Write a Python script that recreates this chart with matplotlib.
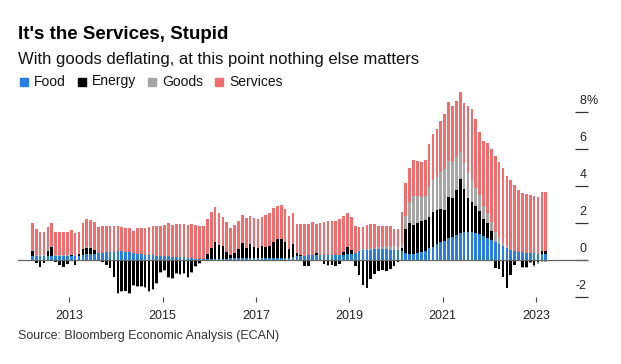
import numpy as np
import pandas as pd
import matplotlib
matplotlib.use("Agg")
import matplotlib.pyplot as plt
from matplotlib.patches import Rectangle

# contributions to inflation, percentage points, monthly from Mar 2012
food = [0.23, 0.22, 0.22, 0.22, 0.22, 0.22, 0.23, 0.23, 0.22, 0.22, 0.22, 0.22, 0.24,
        0.27, 0.30, 0.32, 0.35, 0.38, 0.40, 0.42, 0.44, 0.45,
        0.46, 0.46, 0.45, 0.42, 0.36, 0.32, 0.30, 0.28, 0.27, 0.25, 0.24, 0.22, 0.21, 0.20,
        0.18, 0.17, 0.15, 0.14, 0.12, 0.10, 0.08, 0.06,
        0.05, 0.05, 0.05, 0.05, 0.06, 0.07, 0.08,
        0.10, 0.10, 0.10, 0.10, 0.10, 0.10, 0.10, 0.10, 0.10, 0.10, 0.10, 0.10, 0.10, 0.10, 0.10, 0.10,
        0.15,
        0.20, 0.22, 0.24, 0.25, 0.26, 0.27, 0.27, 0.28, 0.28, 0.28, 0.28, 0.28, 0.29, 0.30, 0.32,
        0.36, 0.48, 0.53, 0.55, 0.56, 0.57, 0.57, 0.57, 0.57, 0.56, 0.55, 0.52,
        0.50, 0.40, 0.30, 0.30, 0.36, 0.45, 0.50, 0.63, 0.72, 0.85, 0.95, 1.03, 1.17, 1.26, 1.35, 1.44,
        1.50, 1.53, 1.52, 1.48, 1.40, 1.32, 1.20, 1.08, 0.99, 0.86, 0.76, 0.65, 0.56, 0.50, 0.45, 0.41,
        0.40, 0.38, 0.36, 0.34, 0.32, 0.32]
energy = [0.25, -0.15, -0.40, -0.15, 0.25, 0.48, -0.10, -0.25, -0.40, -0.20, 0.05, -0.25, 0.10,
          0.30, 0.35, 0.35, 0.20, -0.05, -0.10, -0.25, -0.45, -0.90,
          -1.80, -1.70, -1.65, -1.80, -1.35, -1.40, -1.40, -1.45, -1.70, -1.55, -1.25, -0.65, -0.55,
          -0.90, -0.95, -0.72, -0.78, -0.72, -0.90, -0.65, -0.32, -0.15,
          0.02, 0.25, 0.58, 0.95, 0.74, 0.68, 0.37, 0.17, 0.26, 0.48, 0.80, 0.53, 0.75, 0.62, 0.53,
          0.65, 0.62, 0.65, 0.90, 1.02, 1.02, 0.85, 0.48, 0.70,
          0.20, 0.05, -0.30, -0.30, 0.00, 0.12, 0.00, -0.20, -0.28, -0.25, -0.30, -0.20, 0.15, 0.40, 0.20,
          -0.30, -0.80, -1.35, -1.50, -1.00, -0.75, -0.60, -0.55, -0.58, -0.50, -0.35, -0.12,
          0.13, 1.30, 1.68, 1.60, 1.64, 1.65, 1.66, 1.71, 1.88, 1.85, 1.80, 1.67, 2.23, 2.07, 2.45, 2.96,
          2.33, 1.82, 1.60, 1.42, 1.25, 0.90, 0.80, 0.50, -0.45, -0.50, -0.90, -1.50, -0.80, -0.27,
          -0.05, -0.36, -0.40, -0.10, -0.27, -0.12, 0.15, 0.18]
goods = [0.05] * 16 + [0.0] * 6 + [-0.05] * 22 + [-0.08] * 15 + [-0.05] * 9 + [-0.03] * 15 + \
        [0.00, 0.03, 0.05, 0.05, 0.08, 0.10, 0.12, 0.15, 0.18, 0.20, 0.20, 0.18,
         0.22, 0.68, 1.17, 1.55, 1.45, 1.33, 1.29, 1.61, 1.70, 1.78, 1.98, 2.20, 1.96, 1.99, 1.75, 1.45,
         1.40, 1.35, 1.20, 1.00, 0.85, 0.70, 0.55, 0.45, 0.55, 0.35, 0.20, 0.10, 0.05, 0.00, -0.03,
         -0.05, -0.05, -0.08, -0.10, -0.12, -0.12, -0.10]
services = [1.45, 1.41, 1.26, 1.24, 1.28, 1.23, 1.25, 1.23, 1.24, 1.24, 1.30, 1.17, 1.14, 1.40, 1.50,
            1.42, 1.52, 1.42, 1.46, 1.44, 1.42, 1.41, 1.40, 1.34, 1.30, 1.31, 1.23, 1.39, 1.41, 1.47,
            1.53, 1.61, 1.62, 1.62, 1.68, 1.78, 1.71, 1.78, 1.80, 1.79, 1.77, 1.83, 1.81, 1.78,
            1.79, 1.92, 1.94, 1.84, 1.72, 1.59, 1.59, 1.48, 1.53, 1.55, 1.55, 1.62, 1.53, 1.55, 1.57,
            1.59, 1.71, 1.77, 1.83, 1.82, 1.85, 1.79, 1.80, 1.71,
            1.55, 1.68, 1.69, 1.68, 1.78, 1.53, 1.71, 1.78, 1.84, 1.84, 1.83, 1.92, 1.96, 1.86, 1.83,
            1.49, 1.29, 1.22, 1.29, 1.31, 1.26, 1.17, 1.14, 1.09, 1.10, 0.93, 0.95,
            1.75, 1.80, 1.85, 1.95, 1.90, 1.85, 1.95, 2.30, 2.50, 2.60, 2.80, 3.00, 3.20, 3.00, 3.05, 3.25,
            3.27, 3.65, 3.83, 3.70, 3.40, 3.53, 3.80, 3.97, 4.06, 4.09, 4.04, 3.80, 3.69, 3.55, 3.35,
            3.21, 3.18, 3.14, 3.12, 3.06, 3.18, 3.15]

series = ["Food", "Energy", "Goods", "Services"]
colors = ["#2a7de1", "#000000", "#a5a5a5", "#f26d6d"]
y_ticks = [-2, 0, 2, 4, 6, 8]
year_labels = ["2013", "2015", "2017", "2019", "2021", "2023"]

months = pd.date_range("2012-03-01", periods=len(food), freq="MS")
x = np.arange(len(months))

plt.rcParams["font.family"] = ["Liberation Sans", "DejaVu Sans"]
W, H = 621, 364
fig = plt.figure(figsize=(W / 100, H / 100), dpi=100)
ax = fig.add_axes([18 / W, 1 - 297 / H, 570 / W, (297 - 84.25) / H])

# stack positives upward and negatives downward
pos_base = np.zeros(len(x))
neg_base = np.zeros(len(x))
for vals, c in zip([food, energy, goods, services], colors):
    v = np.array(vals)
    bottom = np.where(v >= 0, pos_base, neg_base)
    ax.bar(x, v, bottom=bottom, width=0.68, color=c, linewidth=0, zorder=2)
    pos_base += np.clip(v, 0, None)
    neg_base += np.clip(v, None, 0)

ax.axhline(0, color="#666666", lw=0.9, zorder=3)
ax.set_xlim(-3.68, 142.85)
ax.set_ylim(-2.0, 9.5)
for s in ax.spines.values():
    s.set_visible(False)

tick_pos = [x[(months.year == int(y)) & (months.month == 1)][0] - 0.5 for y in year_labels]
ax.set_xticks(tick_pos, year_labels)
ax.tick_params(axis="x", length=3.6, width=0.8, color="#444444", pad=5.5,
               labelsize=9, labelcolor="#222222")

ax.yaxis.tick_right()
ax.set_yticks(y_ticks)
ax.tick_params(axis="y", direction="in", length=9.4, width=0.9, color="#333333",
               labelright=False, labelleft=False)
lab_x = (586.5 - 18) / 570
for v in y_ticks:
    ax.annotate(str(v), xy=(lab_x, v), xycoords=("axes fraction", "data"),
                xytext=(0, 6), textcoords="offset points", ha="right", va="baseline",
                fontsize=9, color="#222222", annotation_clip=False)
ax.annotate("%", xy=(lab_x, y_ticks[-1]), xycoords=("axes fraction", "data"),
            xytext=(0, 6), textcoords="offset points", ha="left", va="baseline",
            fontsize=9, color="#222222", annotation_clip=False)

fig.text(18 / W, 1 - 39 / H, "It's the Services, Stupid", fontsize=13.5,
         weight="bold", va="baseline", color="#000000")
fig.text(18 / W, 1 - 64 / H, "With goods deflating, at this point nothing else matters",
         fontsize=12, va="baseline", color="#111111")

fig.canvas.draw()
r = fig.canvas.get_renderer()
lx = 20
for name, c in zip(series, colors):
    fig.patches.append(Rectangle((lx / W, 1 - 86 / H), 8 / W, 8 / H,
                                 transform=fig.transFigure, color=c))
    t = fig.text((lx + 14) / W, 1 - 85.5 / H, name, fontsize=10, va="baseline",
                 color="#111111")
    lx = t.get_window_extent(r).x1 + 12

fig.text(18 / W, 1 - 339 / H, "Source: Bloomberg Economic Analysis (ECAN)",
         fontsize=9, va="baseline", color="#333333")

fig.savefig("out.png", dpi=100)
